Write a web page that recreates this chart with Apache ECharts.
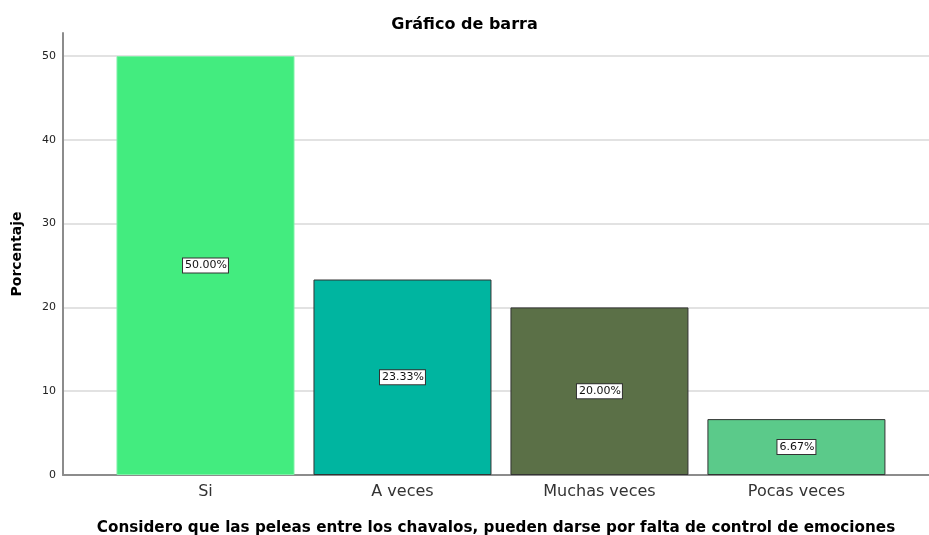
<!DOCTYPE html>
<html>
<head>
<meta charset="utf-8">
<script src="https://cdn.jsdelivr.net/npm/echarts@6/dist/echarts.min.js"></script>
<style>
  html, body { margin: 0; padding: 0; background: #fff; }
  #chart { width: 929px; height: 535px; }
</style>
</head>
<body>
<div id="chart"></div>
<script>
  // datos
  const categories = ['Si', 'A veces', 'Muchas veces', 'Pocas veces']
  const percentages = [50.00, 23.33, 20.00, 6.67]
  const yTicks = [0, 10, 20, 30, 40, 50]

  const barColors = ['#43ec7f', '#00b5a0', '#5b7047', '#5bca8a']
  const barBorders = ['#7ef0a6', '#333333', '#333333', '#333333']
  const font = '"DejaVu Sans", Arial, sans-serif'

  const chart = echarts.init(document.getElementById('chart'))

  const option = {
    animation: false,
    title: {
      text: 'Gráfico de barra',
      left: 'center',
      top: 12,
      textStyle: { fontFamily: font, fontSize: 16, fontWeight: 'bold', color: '#000' }
    },
    grid: { left: 63, right: 0, top: 33, bottom: 60, outerBoundsMode: 'none', containLabel: false },
    xAxis: {
      type: 'value',
      min: -0.7234,
      max: 3.673,
      name: 'Considero que las peleas entre los chavalos, pueden darse por falta de control de emociones',
      nameLocation: 'middle',
      nameGap: 46,
      nameTextStyle: { fontFamily: font, fontSize: 15.2, fontWeight: 'bold', color: '#000' },
      axisLine: { show: true, lineStyle: { color: '#8c8c8c', width: 2 } },
      axisTick: { show: false },
      splitLine: { show: false },
      axisLabel: {
        customValues: categories.map((c, i) => i),
        formatter: v => categories[Math.round(v)],
        fontFamily: font,
        fontSize: 16,
        color: '#333',
        margin: 9
      }
    },
    yAxis: {
      type: 'value',
      min: 0,
      max: 52.75,
      interval: 10,
      name: 'Porcentaje',
      nameLocation: 'middle',
      nameGap: 39,
      nameRotate: 90,
      nameTextStyle: { fontFamily: font, fontSize: 14, fontWeight: 'bold', color: '#000' },
      axisLine: { show: true, onZero: false, lineStyle: { color: '#8c8c8c', width: 2 } },
      axisTick: { show: false },
      axisLabel: {
        customValues: yTicks,
        fontFamily: font,
        fontSize: 11,
        color: '#222',
        margin: 7
      },
      splitLine: { show: true, showMaxLine: false, lineStyle: { color: '#d9d9d9', width: 1.5 } }
    },
    series: [{
      type: 'bar',
      barWidth: 178,
      data: percentages.map((v, i) => ({
        value: [i, v],
        itemStyle: { color: barColors[i], borderColor: barBorders[i], borderWidth: 1 }
      })),
      label: {
        show: true,
        position: 'inside',
        formatter: p => p.value[1].toFixed(2) + '%',
        fontFamily: font,
        fontSize: 11,
        color: '#111',
        backgroundColor: '#fff',
        borderColor: '#333',
        borderWidth: 1,
        padding: [2, 1, 1, 2]
      }
    }]
  }

  chart.setOption(option)
</script>
</body>
</html>
